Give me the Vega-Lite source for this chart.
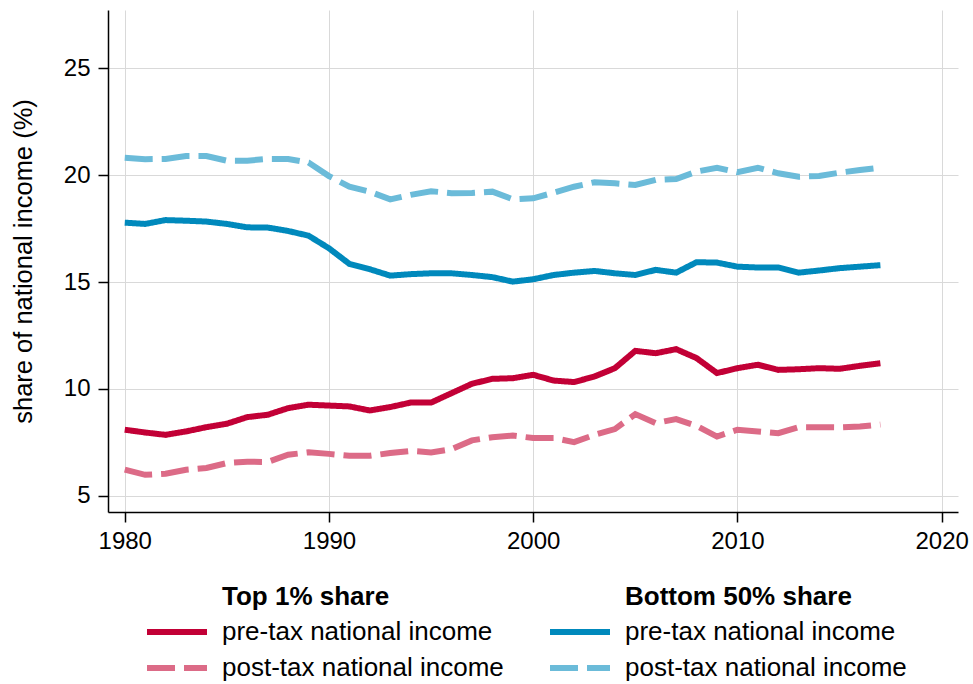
{
  "$schema": "https://vega.github.io/schema/vega-lite/v6.json",
  "width": 850,
  "height": 502,
  "autosize": {"type": "none"},
  "padding": {"left": 108, "top": 10, "right": 15, "bottom": 172},
  "background": "white",
  "config": {
    "view": {"stroke": null},
    "font": "Liberation Sans",
    "axis": {
      "domainColor": "black",
      "domainWidth": 1.5,
      "tickColor": "black",
      "tickWidth": 1.5,
      "tickSize": 10,
      "gridColor": "#d9d9d9",
      "gridWidth": 1,
      "labelFont": "Liberation Sans",
      "labelFontSize": 24,
      "labelColor": "black",
      "titleColor": "black",
      "titleFont": "Liberation Sans"
    },
    "legend": {
      "orient": "none",
      "padding": 0,
      "titleFont": "Liberation Sans",
      "titleFontSize": 26,
      "titleFontWeight": "bold",
      "titleColor": "black",
      "titleLimit": 500,
      "labelFont": "Liberation Sans",
      "labelFontSize": 26,
      "labelColor": "black",
      "symbolType": "M-3,0H3",
      "symbolSize": 400,
      "symbolStrokeWidth": 6,
      "labelOffset": 32,
      "rowPadding": 10,
      "titlePadding": 9,
      "labelLimit": 500
    }
  },
  "data": {
    "values": [
      {"year":1980,"group":"top","series":"pre-tax national income","value":8.09},
      {"year":1981,"group":"top","series":"pre-tax national income","value":7.96},
      {"year":1982,"group":"top","series":"pre-tax national income","value":7.85},
      {"year":1983,"group":"top","series":"pre-tax national income","value":8.01},
      {"year":1984,"group":"top","series":"pre-tax national income","value":8.21},
      {"year":1985,"group":"top","series":"pre-tax national income","value":8.37},
      {"year":1986,"group":"top","series":"pre-tax national income","value":8.68},
      {"year":1987,"group":"top","series":"pre-tax national income","value":8.79},
      {"year":1988,"group":"top","series":"pre-tax national income","value":9.1},
      {"year":1989,"group":"top","series":"pre-tax national income","value":9.26},
      {"year":1990,"group":"top","series":"pre-tax national income","value":9.22},
      {"year":1991,"group":"top","series":"pre-tax national income","value":9.18},
      {"year":1992,"group":"top","series":"pre-tax national income","value":8.99},
      {"year":1993,"group":"top","series":"pre-tax national income","value":9.15},
      {"year":1994,"group":"top","series":"pre-tax national income","value":9.36},
      {"year":1995,"group":"top","series":"pre-tax national income","value":9.36},
      {"year":1996,"group":"top","series":"pre-tax national income","value":9.8},
      {"year":1997,"group":"top","series":"pre-tax national income","value":10.24},
      {"year":1998,"group":"top","series":"pre-tax national income","value":10.47},
      {"year":1999,"group":"top","series":"pre-tax national income","value":10.5},
      {"year":2000,"group":"top","series":"pre-tax national income","value":10.66},
      {"year":2001,"group":"top","series":"pre-tax national income","value":10.39},
      {"year":2002,"group":"top","series":"pre-tax national income","value":10.32},
      {"year":2003,"group":"top","series":"pre-tax national income","value":10.58},
      {"year":2004,"group":"top","series":"pre-tax national income","value":10.97},
      {"year":2005,"group":"top","series":"pre-tax national income","value":11.78},
      {"year":2006,"group":"top","series":"pre-tax national income","value":11.67},
      {"year":2007,"group":"top","series":"pre-tax national income","value":11.86},
      {"year":2008,"group":"top","series":"pre-tax national income","value":11.44},
      {"year":2009,"group":"top","series":"pre-tax national income","value":10.74},
      {"year":2010,"group":"top","series":"pre-tax national income","value":10.97},
      {"year":2011,"group":"top","series":"pre-tax national income","value":11.13},
      {"year":2012,"group":"top","series":"pre-tax national income","value":10.89},
      {"year":2013,"group":"top","series":"pre-tax national income","value":10.92},
      {"year":2014,"group":"top","series":"pre-tax national income","value":10.97},
      {"year":2015,"group":"top","series":"pre-tax national income","value":10.94},
      {"year":2016,"group":"top","series":"pre-tax national income","value":11.08},
      {"year":2017,"group":"top","series":"pre-tax national income","value":11.2},
      {"year":1980,"group":"top","series":"post-tax national income","value":6.22},
      {"year":1981,"group":"top","series":"post-tax national income","value":5.98},
      {"year":1982,"group":"top","series":"post-tax national income","value":6.03},
      {"year":1983,"group":"top","series":"post-tax national income","value":6.22},
      {"year":1984,"group":"top","series":"post-tax national income","value":6.3},
      {"year":1985,"group":"top","series":"post-tax national income","value":6.53},
      {"year":1986,"group":"top","series":"post-tax national income","value":6.59},
      {"year":1987,"group":"top","series":"post-tax national income","value":6.58},
      {"year":1988,"group":"top","series":"post-tax national income","value":6.92},
      {"year":1989,"group":"top","series":"post-tax national income","value":7.03},
      {"year":1990,"group":"top","series":"post-tax national income","value":6.96},
      {"year":1991,"group":"top","series":"post-tax national income","value":6.87},
      {"year":1992,"group":"top","series":"post-tax national income","value":6.87},
      {"year":1993,"group":"top","series":"post-tax national income","value":7.0},
      {"year":1994,"group":"top","series":"post-tax national income","value":7.1},
      {"year":1995,"group":"top","series":"post-tax national income","value":7.03},
      {"year":1996,"group":"top","series":"post-tax national income","value":7.18},
      {"year":1997,"group":"top","series":"post-tax national income","value":7.59},
      {"year":1998,"group":"top","series":"post-tax national income","value":7.74},
      {"year":1999,"group":"top","series":"post-tax national income","value":7.82},
      {"year":2000,"group":"top","series":"post-tax national income","value":7.7},
      {"year":2001,"group":"top","series":"post-tax national income","value":7.7},
      {"year":2002,"group":"top","series":"post-tax national income","value":7.51},
      {"year":2003,"group":"top","series":"post-tax national income","value":7.85},
      {"year":2004,"group":"top","series":"post-tax national income","value":8.12},
      {"year":2005,"group":"top","series":"post-tax national income","value":8.82},
      {"year":2006,"group":"top","series":"post-tax national income","value":8.4},
      {"year":2007,"group":"top","series":"post-tax national income","value":8.59},
      {"year":2008,"group":"top","series":"post-tax national income","value":8.27},
      {"year":2009,"group":"top","series":"post-tax national income","value":7.77},
      {"year":2010,"group":"top","series":"post-tax national income","value":8.09},
      {"year":2011,"group":"top","series":"post-tax national income","value":8.01},
      {"year":2012,"group":"top","series":"post-tax national income","value":7.93},
      {"year":2013,"group":"top","series":"post-tax national income","value":8.21},
      {"year":2014,"group":"top","series":"post-tax national income","value":8.21},
      {"year":2015,"group":"top","series":"post-tax national income","value":8.2},
      {"year":2016,"group":"top","series":"post-tax national income","value":8.24},
      {"year":2017,"group":"top","series":"post-tax national income","value":8.33},
      {"year":1980,"group":"bottom","series":"pre-tax national income","value":17.78},
      {"year":1981,"group":"bottom","series":"pre-tax national income","value":17.72},
      {"year":1982,"group":"bottom","series":"pre-tax national income","value":17.9},
      {"year":1983,"group":"bottom","series":"pre-tax national income","value":17.87},
      {"year":1984,"group":"bottom","series":"pre-tax national income","value":17.83},
      {"year":1985,"group":"bottom","series":"pre-tax national income","value":17.72},
      {"year":1986,"group":"bottom","series":"pre-tax national income","value":17.56},
      {"year":1987,"group":"bottom","series":"pre-tax national income","value":17.55},
      {"year":1988,"group":"bottom","series":"pre-tax national income","value":17.39},
      {"year":1989,"group":"bottom","series":"pre-tax national income","value":17.17},
      {"year":1990,"group":"bottom","series":"pre-tax national income","value":16.58},
      {"year":1991,"group":"bottom","series":"pre-tax national income","value":15.85},
      {"year":1992,"group":"bottom","series":"pre-tax national income","value":15.6},
      {"year":1993,"group":"bottom","series":"pre-tax national income","value":15.3},
      {"year":1994,"group":"bottom","series":"pre-tax national income","value":15.37},
      {"year":1995,"group":"bottom","series":"pre-tax national income","value":15.41},
      {"year":1996,"group":"bottom","series":"pre-tax national income","value":15.41},
      {"year":1997,"group":"bottom","series":"pre-tax national income","value":15.33},
      {"year":1998,"group":"bottom","series":"pre-tax national income","value":15.23},
      {"year":1999,"group":"bottom","series":"pre-tax national income","value":15.02},
      {"year":2000,"group":"bottom","series":"pre-tax national income","value":15.13},
      {"year":2001,"group":"bottom","series":"pre-tax national income","value":15.33},
      {"year":2002,"group":"bottom","series":"pre-tax national income","value":15.44},
      {"year":2003,"group":"bottom","series":"pre-tax national income","value":15.52},
      {"year":2004,"group":"bottom","series":"pre-tax national income","value":15.41},
      {"year":2005,"group":"bottom","series":"pre-tax national income","value":15.33},
      {"year":2006,"group":"bottom","series":"pre-tax national income","value":15.57},
      {"year":2007,"group":"bottom","series":"pre-tax national income","value":15.44},
      {"year":2008,"group":"bottom","series":"pre-tax national income","value":15.93},
      {"year":2009,"group":"bottom","series":"pre-tax national income","value":15.91},
      {"year":2010,"group":"bottom","series":"pre-tax national income","value":15.72},
      {"year":2011,"group":"bottom","series":"pre-tax national income","value":15.68},
      {"year":2012,"group":"bottom","series":"pre-tax national income","value":15.68},
      {"year":2013,"group":"bottom","series":"pre-tax national income","value":15.44},
      {"year":2014,"group":"bottom","series":"pre-tax national income","value":15.54},
      {"year":2015,"group":"bottom","series":"pre-tax national income","value":15.65},
      {"year":2016,"group":"bottom","series":"pre-tax national income","value":15.72},
      {"year":2017,"group":"bottom","series":"pre-tax national income","value":15.79},
      {"year":1980,"group":"bottom","series":"post-tax national income","value":20.82},
      {"year":1981,"group":"bottom","series":"post-tax national income","value":20.75},
      {"year":1982,"group":"bottom","series":"post-tax national income","value":20.76},
      {"year":1983,"group":"bottom","series":"post-tax national income","value":20.9},
      {"year":1984,"group":"bottom","series":"post-tax national income","value":20.9},
      {"year":1985,"group":"bottom","series":"post-tax national income","value":20.68},
      {"year":1986,"group":"bottom","series":"post-tax national income","value":20.68},
      {"year":1987,"group":"bottom","series":"post-tax national income","value":20.76},
      {"year":1988,"group":"bottom","series":"post-tax national income","value":20.76},
      {"year":1989,"group":"bottom","series":"post-tax national income","value":20.59},
      {"year":1990,"group":"bottom","series":"post-tax national income","value":19.96},
      {"year":1991,"group":"bottom","series":"post-tax national income","value":19.46},
      {"year":1992,"group":"bottom","series":"post-tax national income","value":19.23},
      {"year":1993,"group":"bottom","series":"post-tax national income","value":18.87},
      {"year":1994,"group":"bottom","series":"post-tax national income","value":19.08},
      {"year":1995,"group":"bottom","series":"post-tax national income","value":19.25},
      {"year":1996,"group":"bottom","series":"post-tax national income","value":19.16},
      {"year":1997,"group":"bottom","series":"post-tax national income","value":19.17},
      {"year":1998,"group":"bottom","series":"post-tax national income","value":19.23},
      {"year":1999,"group":"bottom","series":"post-tax national income","value":18.87},
      {"year":2000,"group":"bottom","series":"post-tax national income","value":18.92},
      {"year":2001,"group":"bottom","series":"post-tax national income","value":19.18},
      {"year":2002,"group":"bottom","series":"post-tax national income","value":19.46},
      {"year":2003,"group":"bottom","series":"post-tax national income","value":19.67},
      {"year":2004,"group":"bottom","series":"post-tax national income","value":19.62},
      {"year":2005,"group":"bottom","series":"post-tax national income","value":19.54},
      {"year":2006,"group":"bottom","series":"post-tax national income","value":19.78},
      {"year":2007,"group":"bottom","series":"post-tax national income","value":19.82},
      {"year":2008,"group":"bottom","series":"post-tax national income","value":20.17},
      {"year":2009,"group":"bottom","series":"post-tax national income","value":20.35},
      {"year":2010,"group":"bottom","series":"post-tax national income","value":20.14},
      {"year":2011,"group":"bottom","series":"post-tax national income","value":20.35},
      {"year":2012,"group":"bottom","series":"post-tax national income","value":20.09},
      {"year":2013,"group":"bottom","series":"post-tax national income","value":19.93},
      {"year":2014,"group":"bottom","series":"post-tax national income","value":19.96},
      {"year":2015,"group":"bottom","series":"post-tax national income","value":20.12},
      {"year":2016,"group":"bottom","series":"post-tax national income","value":20.24},
      {"year":2017,"group":"bottom","series":"post-tax national income","value":20.35}
    ]
  },
  "encoding": {
    "x": {
      "field": "year",
      "type": "quantitative",
      "scale": {"domain": [1979.18, 2020.8], "nice": false, "zero": false},
      "axis": {"title": null, "values": [1980, 1990, 2000, 2010, 2020], "format": "d", "labelPadding": 7, "labelFlush": false, "labelOverlap": false}
    },
    "y": {
      "field": "value",
      "type": "quantitative",
      "scale": {"domain": [4.24, 27.73], "nice": false, "zero": false},
      "axis": {"title": "share of national income (%)", "titleFontSize": 25.5, "titleFontWeight": "normal", "titlePadding": 27, "values": [5, 10, 15, 20, 25], "labelPadding": 8}
    }
  },
  "layer": [
    {
      "transform": [{"filter": "datum.group == 'top'"}],
      "mark": {"type": "line", "strokeWidth": 6},
      "encoding": {
        "color": {
          "field": "series", "type": "nominal",
          "scale": {"domain": ["pre-tax national income", "post-tax national income"], "range": ["#c20036", "#dc6b87"]},
          "legend": {"title": "Top 1% share", "legendX": 56, "legendY": 574, "encode": {"title": {"update": {"dx": {"value": 58}}}}}
        },
        "strokeDash": {
          "field": "series", "type": "nominal",
          "scale": {"domain": ["pre-tax national income", "post-tax national income"], "range": [[1, 0], [28, 9]]},
          "legend": {"title": "Top 1% share", "legendX": 56, "legendY": 574, "encode": {"title": {"update": {"dx": {"value": 58}}}}}
        }
      }
    },
    {
      "transform": [{"filter": "datum.group == 'bottom'"}],
      "mark": {"type": "line", "strokeWidth": 6},
      "encoding": {
        "color": {
          "field": "series", "type": "nominal",
          "scale": {"domain": ["pre-tax national income", "post-tax national income"], "range": ["#0089bc", "#6bbbd9"]},
          "legend": {"title": "Bottom 50% share", "legendX": 459, "legendY": 574, "encode": {"title": {"update": {"dx": {"value": 58}}}}}
        },
        "strokeDash": {
          "field": "series", "type": "nominal",
          "scale": {"domain": ["pre-tax national income", "post-tax national income"], "range": [[1, 0], [28, 9]]},
          "legend": {"title": "Bottom 50% share", "legendX": 459, "legendY": 574, "encode": {"title": {"update": {"dx": {"value": 58}}}}}
        }
      }
    }
  ],
  "resolve": {"scale": {"color": "independent", "strokeDash": "independent"}}
}
